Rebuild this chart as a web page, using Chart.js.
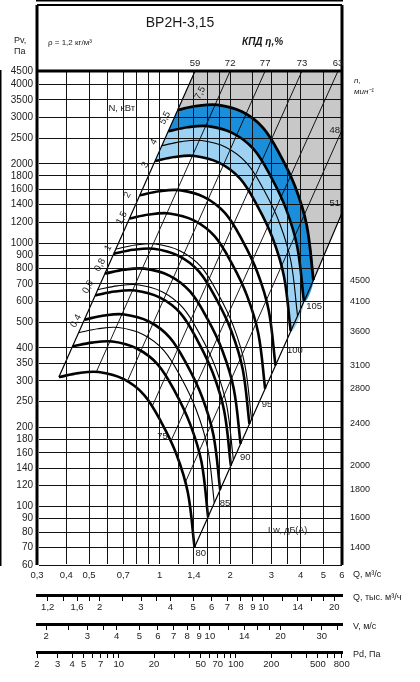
<!DOCTYPE html>
<html>
<head>
<meta charset="utf-8">
<script src="https://cdn.jsdelivr.net/npm/chart.js@4"></script>
<style>
  html, body { margin: 0; padding: 0; background: #fff; }
</style>
</head>
<body>
<canvas id="chartContainer" width="420" height="682"></canvas>
<script>
// axis ticks
const pvTicks = [60, 70, 80, 90, 100, 120, 140, 160, 180, 200, 250, 300, 350, 400, 500, 600, 700, 800, 900, 1000, 1200, 1400, 1600, 1800, 2000, 2500, 3000, 3500, 4000, 4500];
const qGrid = [0.3, 0.4, 0.5, 0.6, 0.7, 0.8, 0.9, 1, 1.2, 1.4, 1.6, 1.8, 2, 2.5, 3, 3.5, 4, 5, 6];
const qLabels = [0.3, 0.4, 0.5, 0.7, 1, 1.4, 2, 3, 4, 5, 6];
const qhTicks = [1.2, 1.4, 1.6, 1.8, 2, 2.5, 3, 3.5, 4, 5, 6, 7, 8, 9, 10, 12, 14, 16, 18, 20];
const qhLabels = [1.2, 1.6, 2, 3, 4, 5, 6, 7, 8, 9, 10, 14, 20];
const vTicks = [2, 2.5, 3, 3.5, 4, 5, 6, 7, 8, 9, 10, 12, 14, 16, 18, 20, 25, 30, 35];
const vLabels = [2, 3, 4, 5, 6, 7, 8, 9, 10, 14, 20, 30];
const pdTicks = [2, 3, 4, 5, 6, 7, 8, 9, 10, 20, 30, 40, 50, 60, 70, 80, 90, 100, 200, 300, 400, 500, 600, 700, 800];
const pdLabels = [2, 3, 4, 5, 7, 10, 20, 50, 70, 100, 200, 500, 800];

// fan curves, Q m3/s and Pv Pa (thick)
const q1400 = [0.372, 0.45, 0.55, 0.70, 0.86, 1.02, 1.18, 1.32, 1.41];
const p1400 = [310, 321, 324, 305, 265, 208, 158, 113, 70];
const q1600 = [0.425, 0.514, 0.629, 0.80, 0.983, 1.166, 1.349, 1.509, 1.611];
const p1600 = [405, 419, 423, 398, 346, 272, 206, 148, 91];
const q1800 = [0.478, 0.579, 0.707, 0.90, 1.106, 1.311, 1.517, 1.697, 1.813];
const p1800 = [512, 531, 536, 504, 438, 344, 261, 187, 116];
const q2000 = [0.531, 0.643, 0.786, 1.0, 1.229, 1.457, 1.686, 1.886, 2.014];
const p2000 = [633, 655, 661, 622, 541, 424, 322, 231, 143];
const q2200 = [0.585, 0.707, 0.864, 1.10, 1.351, 1.603, 1.854, 2.074, 2.216];
const p2200 = [766, 793, 800, 753, 654, 514, 390, 279, 173];
const q2400 = [0.638, 0.771, 0.943, 1.20, 1.474, 1.749, 2.023, 2.263, 2.417];
const p2400 = [911, 943, 952, 896, 779, 611, 464, 332, 206];
const q2800 = [0.744, 0.90, 1.10, 1.40, 1.72, 2.04, 2.36, 2.64, 2.82];
const p2800 = [1240, 1284, 1296, 1220, 1060, 832, 632, 452, 280];
const q3100 = [0.824, 0.996, 1.218, 1.55, 1.904, 2.259, 2.613, 2.923, 3.122];
const p3100 = [1520, 1574, 1589, 1495, 1299, 1020, 775, 554, 343];
const q3600 = [0.957, 1.157, 1.414, 1.80, 2.211, 2.623, 3.034, 3.394, 3.626];
const p3600 = [2050, 2123, 2142, 2017, 1752, 1375, 1045, 747, 463];
const q4100 = [1.089, 1.318, 1.611, 2.05, 2.519, 2.987, 3.456, 3.866, 4.129];
const p4100 = [2659, 2753, 2779, 2616, 2273, 1784, 1355, 969, 600];
const q4500 = [1.196, 1.446, 1.768, 2.25, 2.764, 3.279, 3.793, 4.243, 4.532];
const p4500 = [3203, 3317, 3348, 3151, 2738, 2149, 1632, 1168, 723];

// thin companion curves
const q1700 = [0.452, 0.546, 0.668, 0.85, 1.044, 1.239, 1.433, 1.603, 1.712];
const p1700 = [457, 473, 478, 450, 391, 307, 233, 167, 103];
const q2050 = [0.545, 0.659, 0.805, 1.025, 1.259, 1.494, 1.728, 1.933, 2.065];
const p2050 = [665, 688, 695, 654, 568, 446, 339, 242, 150];
const q2450 = [0.651, 0.788, 0.963, 1.225, 1.505, 1.785, 2.065, 2.31, 2.468];
const p2450 = [949, 983, 992, 934, 812, 637, 484, 346, 214];
const q3850 = [1.023, 1.238, 1.513, 1.925, 2.365, 2.805, 3.245, 3.63, 3.878];
const p3850 = [2344, 2428, 2450, 2307, 2004, 1573, 1195, 855, 529];

// speed, min-1, written at the end pressure of each curve
const rpmValues = [4500, 4100, 3600, 3100, 2800, 2400, 2000, 1800, 1600, 1400];
const rpmEndP = [723, 600, 463, 343, 280, 206, 143, 116, 91, 70];

// efficiency lines
const effLabels = ['59', '72', '77', '73', '63'];
const effTopQ = [1.417, 2.0, 2.82, 4.05, 5.77];
const effLowQ = [0.372, 0.537, 0.73, 0.93, 1.12];
const effLowP = [310, 324, 300, 240, 178];
const sideLabels = ['48', '51'];
const sideP = [2687, 1419];
const line48Q = [1.29, 6];
const line48P = [124, 2687];

// power N, kW along the left boundary
const powerLabels = ['0,4', '0,6', '0,8', '1', '1,5', '2', '3', '4', '5,5', '7,5'];
const powerQ = [0.44, 0.495, 0.557, 0.603, 0.69, 0.73, 0.867, 0.947, 1.055, 1.49];
const powerP = [506, 682, 826, 958, 1245, 1523, 1979, 2420, 2984, 3713];

// noise level Lw, dB(A)
const lwLabels = ['75', '80', '85', '90', '95', '100', '105'];
const lwQ = [1.03, 1.50, 1.90, 2.32, 2.87, 3.78, 4.56];
const lwP = [185, 66.7, 103, 154, 245, 390, 577];
const lwLineQ = [1.41, 4.532, 6];
const lwLineP = [70, 723, 1302];

const FONT = 'Arial, "Liberation Sans", sans-serif';
const fmt = v => String(v).replace('.', ',');
const pts = (qs, ps) => qs.map((q, i) => ({ x: q, y: ps[i] }));

function curve(qs, ps, width) {
    return { data: pts(qs, ps), borderColor: '#000', borderWidth: width, tension: 0.35, fill: false, order: 1 };
}

function straight(qs, ps, width) {
    return { data: pts(qs, ps), borderColor: '#000', borderWidth: width, tension: 0, fill: false, order: 1 };
}

function zone(points, color, tension, order) {
    return { data: points, borderColor: 'transparent', borderWidth: 0, backgroundColor: color, tension: tension, fill: 'shape', order: order };
}

const datasets = [
    curve(q1400, p1400, 2.6), curve(q1600, p1600, 2.6), curve(q1800, p1800, 2.6),
    curve(q2000, p2000, 2.6), curve(q2200, p2200, 2.6), curve(q2400, p2400, 2.6),
    curve(q2800, p2800, 2.6), curve(q3100, p3100, 2.6), curve(q3600, p3600, 2.6),
    curve(q4100, p4100, 2.6), curve(q4500, p4500, 2.8),
    curve(q1700, p1700, 1.1), curve(q2050, p2050, 1.1), curve(q2450, p2450, 1.1), curve(q3850, p3850, 1.1),
    straight(lwLineQ, lwLineP, 1.2),
    straight(line48Q, line48P, 0.9)
];
effTopQ.forEach((q, i) => datasets.push(straight([effLowQ[i], q], [effLowP[i], 4500], i === 0 ? 1.2 : 0.9)));

// shaded zones
const grayZone = [{ x: effTopQ[0], y: 4500 }, { x: 6, y: 4500 }, { x: lwLineQ[2], y: lwLineP[2] }]
    .concat(pts(q4500, p4500).reverse());
const darkBand = pts(q4500, p4500).concat(pts(q4100, p4100).reverse());
const lightBand = pts(q4100, p4100).concat(pts(q3600, p3600).reverse());
datasets.push(zone(grayZone, '#c8c8c8', 0, 4));
datasets.push(zone(lightBand, '#9dd2f2', 0.35, 3));
datasets.push(zone(darkBand, '#1b8edb', 0.35, 2));

function logAxis(min, max, ticks, labels, weight, height) {
    return {
        type: 'logarithmic', axis: 'x', position: 'bottom', min: min, max: max, weight: weight,
        afterBuildTicks: s => { s.ticks = ticks.map(v => ({ value: v })); },
        afterFit: s => { s.height = height; },
        grid: { drawOnChartArea: false, drawTicks: true, tickLength: 6, color: '#000', tickWidth: 1 },
        border: { color: '#000', width: 3 },
        ticks: {
            autoSkip: false, maxRotation: 0, padding: 1, color: '#222', font: { size: 9.5, family: FONT },
            callback: v => labels.includes(v) ? fmt(v) : ''
        }
    };
}

const overlay = {
    id: 'overlay',
    afterDraw(chart) {
        const { ctx, chartArea: a, scales } = chart;
        const x = scales.x, y = scales.y;
        const head = a.top - 66;
        ctx.save();
        ctx.strokeStyle = '#000';
        ctx.lineWidth = 3;
        ctx.beginPath();
        ctx.moveTo(a.left, head); ctx.lineTo(a.left, a.bottom);
        ctx.moveTo(a.right, head); ctx.lineTo(a.right, a.bottom);
        ctx.moveTo(a.left, a.top); ctx.lineTo(a.right, a.top);
        ctx.stroke();
        ctx.lineWidth = 2;
        ctx.beginPath();
        ctx.moveTo(a.left, head); ctx.lineTo(a.right, head);
        ctx.stroke();

        ctx.fillStyle = '#1a1a1a';
        ctx.textBaseline = 'middle';
        const text = (t, px, py, size, align, style) => {
            ctx.font = (style ? style + ' ' : '') + size + 'px ' + FONT;
            ctx.textAlign = align || 'center';
            ctx.fillText(t, px, py);
        };

        // header
        text('ВР2Н-3,15', 180, head + 18, 14);
        text('ρ = 1,2 кг/м³', 48, head + 38, 8, 'left');
        text('КПД η,%', 242, head + 37, 10, 'left', 'italic bold');
        text('Pv,', 14, head + 36, 9, 'left');
        text('Па', 14, head + 47, 9, 'left');
        effLabels.forEach((t, i) => text(t, x.getPixelForValue(effTopQ[i]), a.top - 8, 9.5));
        sideLabels.forEach((t, i) => text(t, a.right - 2, y.getPixelForValue(sideP[i]), 9.5, 'right'));

        // speed labels at right
        text('n,', a.right + 12, a.top + 10, 8, 'left', 'italic');
        text('мин⁻¹', a.right + 12, a.top + 21, 8, 'left', 'italic');
        rpmValues.forEach((n, i) => text(String(n), a.right + 8, y.getPixelForValue(rpmEndP[i]), 9, 'left'));

        // axis names
        text('Q, м³/с', a.right + 11, x.top + 10, 9, 'left');
        text('Q, тыс. м³/ч', a.right + 11, scales.xq.top + 3, 9, 'left');
        text('V, м/с', a.right + 11, scales.xv.top + 3, 9, 'left');
        text('Pd, Па', a.right + 11, scales.xpd.top + 3, 9, 'left');

        // power labels (rotated along the boundary line)
        text('N, кВт', x.getPixelForValue(0.69), y.getPixelForValue(3250), 9.5);
        ctx.font = '9.5px ' + FONT;
        ctx.textAlign = 'center';
        powerLabels.forEach((t, i) => {
            ctx.save();
            ctx.translate(x.getPixelForValue(powerQ[i]), y.getPixelForValue(powerP[i]));
            ctx.rotate(-62 * Math.PI / 180);
            ctx.fillText(t, 0, 0);
            ctx.restore();
        });

        // noise labels
        lwLabels.forEach((t, i) => text(t, x.getPixelForValue(lwQ[i]), y.getPixelForValue(lwP[i]), 9.5));
        text('Lw, дБ(А)', x.getPixelForValue(3.52), y.getPixelForValue(81), 9);
        ctx.restore();
    }
};

new Chart(document.getElementById('chartContainer'), {
    type: 'line',
    data: { datasets: datasets },
    options: {
        responsive: false,
        animation: false,
        layout: { padding: { top: 71, right: 78, left: 0, bottom: 0 } },
        plugins: { legend: { display: false }, tooltip: { enabled: false } },
        elements: { point: { radius: 0 } },
        scales: {
            x: {
                type: 'logarithmic', position: 'bottom', min: 0.3, max: 6, weight: 0,
                afterBuildTicks: s => { s.ticks = qGrid.map(v => ({ value: v })); },
                afterFit: s => { s.height = 30; },
                grid: { color: '#111', lineWidth: 1, drawTicks: false, drawOnChartArea: true, z: 1 },
                border: { color: '#000', width: 3 },
                ticks: {
                    autoSkip: false, maxRotation: 0, padding: 5, color: '#222', font: { size: 9.5, family: FONT },
                    callback: v => qLabels.includes(v) ? fmt(v) : ''
                }
            },
            xq: logAxis(1.08, 21.6, qhTicks, qhLabels, 1, 29),
            xv: logAxis(1.83, 36.6, vTicks, vLabels, 2, 28),
            xpd: logAxis(2, 804, pdTicks, pdLabels, 3, 30),
            y: {
                type: 'logarithmic', position: 'left', min: 60, max: 4500,
                afterBuildTicks: s => { s.ticks = pvTicks.map(v => ({ value: v })); },
                afterFit: s => { s.width = 37; },
                grid: { color: '#111', lineWidth: 1, drawTicks: false, drawOnChartArea: true, z: 1 },
                border: { color: '#000', width: 3 },
                ticks: {
                    autoSkip: false, padding: 4, color: '#222', font: { size: 10, family: FONT },
                    callback: v => String(v)
                }
            }
        }
    },
    plugins: [overlay]
});
</script>
</body>
</html>
